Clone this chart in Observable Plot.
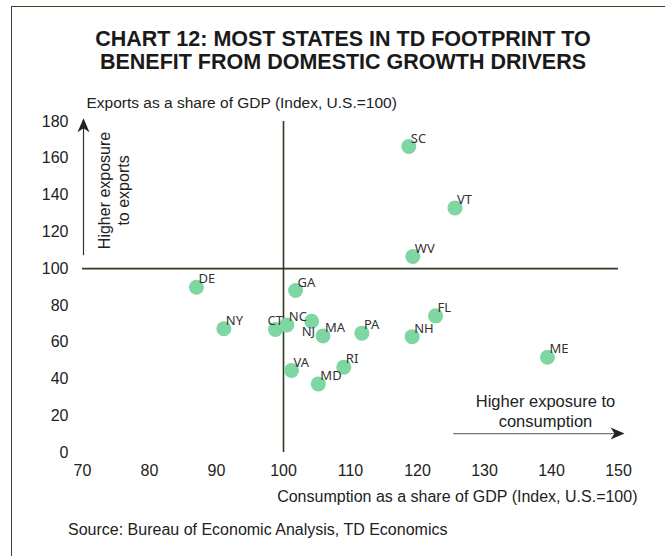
<!DOCTYPE html>
<html>
<head>
<meta charset="utf-8">
<script src="https://cdn.jsdelivr.net/npm/d3@7"></script>
<script src="https://cdn.jsdelivr.net/npm/@observablehq/plot@0.6"></script>
<style>
  html, body { margin: 0; padding: 0; background: #fff; }
  #wrap { position: relative; width: 665px; height: 556px; overflow: hidden; font-family: "Liberation Sans", Arial, sans-serif; }
  #frame { position: absolute; left: 11px; top: 6px; width: 700px; height: 600px; border: 1.5px solid #34421f; box-sizing: border-box; }
  #title { position: absolute; left: 12px; width: 662px; top: 28px; text-align: center; font-weight: bold; font-size: 21.5px; line-height: 23px; color: #1a1a1a; }
  #chart { position: absolute; left: 0; top: 90px; }
  #source { position: absolute; left: 68px; top: 521px; font-size: 16px; color: #222; }
</style>
</head>
<body>
<div id="wrap">
  <div id="frame"></div>
  <div id="title">CHART 12: MOST STATES IN TD FOOTPRINT TO<br>BENEFIT FROM DOMESTIC GROWTH DRIVERS</div>
  <div id="chart"></div>
  <div id="source">Source: Bureau of Economic Analysis, TD Economics</div>
</div>
<script>
// ---- data ----
const states      = ["SC","VT","WV","FL","NH","ME","DE","GA","NY","CT","NC","NJ","MA","PA","VA","RI","MD"];
const consumption = [118.7,125.6,119.3,122.7,119.2,139.4,87.0,101.8,91.1,98.8,100.5,104.2,105.9,111.7,101.2,109.0,105.2];
const exportsIdx  = [166.4,133.0,106.6,74.3,63.0,51.8,89.9,88.1,67.3,66.9,69.4,71.4,63.4,64.9,44.6,46.4,37.3];

const xTicks = [70,80,90,100,110,120,130,140,150];
const yTicks = [0,20,40,60,80,100,120,140,160,180];
const usBenchmark = [100];

const yTitle = "Exports as a share of GDP (Index, U.S.=100)";
const xTitle = "Consumption as a share of GDP (Index, U.S.=100)";

// annotation anchors (data units)
const expNote = [{x: 74.55, y: 142.5, text: "Higher exposure\nto exports"}];
const conNote = [{x: 139.1, y: 22.8, text: "Higher exposure to\nconsumption"}];
const upArrow = [{x: 70.15, y1: 107, y2: 180}];
const upHead = [{x: 70.15, y: 181.8}];
const rightArrow = [{y: 10.3, x1: 125.4, x2: 149.5}];
const rightHead = [{x: 150.9, y: 10.3}];

const data = states.map((s, i) => ({state: s, x: consumption[i], y: exportsIdx[i]}));
const moved = {CT: {dx: -8, dy: -9}, NJ: {dx: -10, dy: 11}};

// stealth arrowhead symbols (tip at origin)
const headUp = {draw(ctx) { ctx.moveTo(0, 0); ctx.lineTo(6, 14); ctx.lineTo(0, 10); ctx.lineTo(-6, 14); ctx.closePath(); }};
const headRight = {draw(ctx) { ctx.moveTo(0, 0); ctx.lineTo(-14, 6); ctx.lineTo(-10, 0); ctx.lineTo(-14, -6); ctx.closePath(); }};

const lineColor = "#2e3a22";
const labelFont = "'Noto Sans', 'DejaVu Sans', sans-serif";

const plot = Plot.plot({
  width: 665,
  height: 422,
  marginLeft: 82,
  marginRight: 47,
  marginTop: 31,
  marginBottom: 60,
  style: {fontFamily: "'Liberation Sans', Arial, sans-serif", fontSize: "16px", color: "#222", background: "transparent"},
  x: {domain: [70, 150], ticks: xTicks, tickSize: 0, tickPadding: 12, label: null},
  y: {domain: [0, 180], ticks: yTicks, tickSize: 0, tickPadding: 14, label: null},
  marks: [
    Plot.ruleX(usBenchmark, {y1: 0, y2: 180, stroke: lineColor, strokeWidth: 1.6}),
    Plot.ruleY(usBenchmark, {x1: 70, x2: 150, stroke: lineColor, strokeWidth: 1.6}),
    Plot.dot(data, {x: "x", y: "y", r: 7.5, fill: "#7ed6a2", stroke: "none"}),
    Plot.text(data.filter(d => !moved[d.state]), {x: "x", y: "y", text: "state", textAnchor: "start", dx: 2, dy: -8, fontSize: 13, fontFamily: labelFont, fill: "#333"}),
    ...Object.keys(moved).map(k => Plot.text(data.filter(d => d.state === k), {x: "x", y: "y", text: "state", textAnchor: "start", dx: moved[k].dx, dy: moved[k].dy, fontSize: 13, fontFamily: labelFont, fill: "#333"})),
    // arrows
    Plot.ruleX(upArrow, {x: "x", y1: "y1", y2: "y2", stroke: "#333", strokeWidth: 1.2}),
    Plot.dot(upHead, {x: "x", y: "y", symbol: headUp, fill: "#222", stroke: "none", r: 5}),
    Plot.ruleY(rightArrow, {y: "y", x1: "x1", x2: "x2", stroke: "#777", strokeWidth: 1.2}),
    Plot.dot(rightHead, {x: "x", y: "y", symbol: headRight, fill: "#222", stroke: "none", r: 5}),
    // annotations
    Plot.text(expNote, {x: "x", y: "y", text: "text", rotate: -90, lineHeight: 1.2, fontSize: 16, fill: "#222"}),
    Plot.text(conNote, {x: "x", y: "y", text: "text", lineHeight: 1.22, fontSize: 16.5, fill: "#222"}),
    // axis titles
    Plot.text([yTitle], {frameAnchor: "top-left", textAnchor: "start", dx: 4, dy: -25, fontSize: 15.5, fill: "#222"}),
    Plot.text([xTitle], {frameAnchor: "bottom-right", textAnchor: "end", dx: 19, dy: 49, fontSize: 16, fill: "#222"})
  ]
});
document.getElementById("chart").appendChild(plot);
</script>
</body>
</html>
